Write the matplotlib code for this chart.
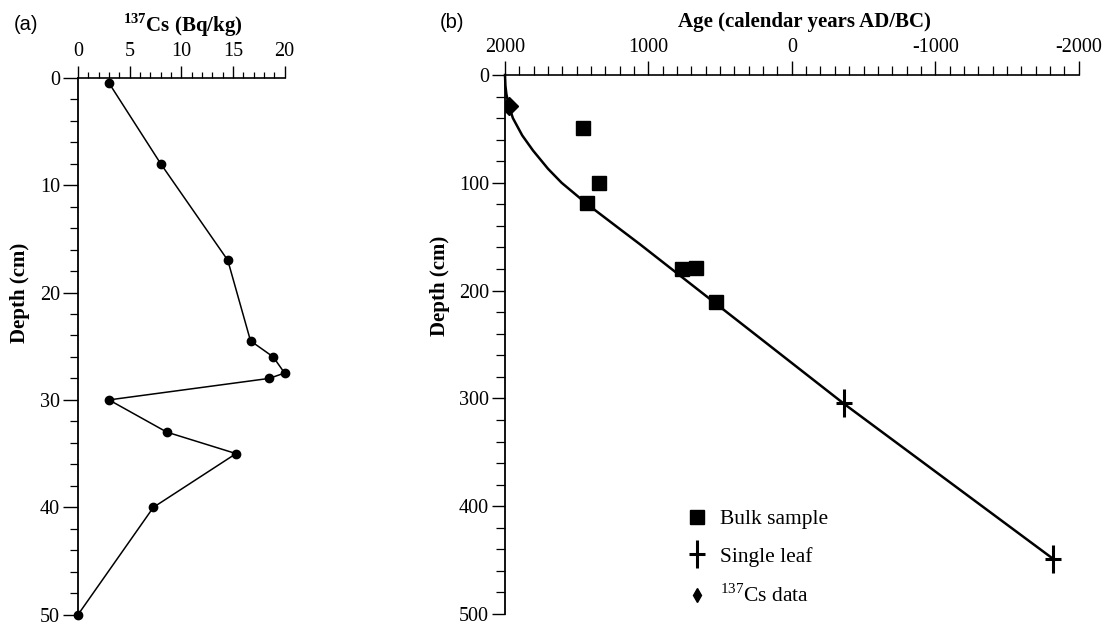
import matplotlib
matplotlib.use("Agg")
import matplotlib.pyplot as plt
from matplotlib.path import Path
from matplotlib.lines import Line2D
from matplotlib.ticker import MultipleLocator

# ---------------- data ----------------
# panel (a): 137Cs activity profile
cs_activity = [3.0, 8.0, 14.5, 16.7, 18.9, 20.0, 18.5, 3.0, 8.6, 15.3, 7.3, 0.0]
cs_depth = [0.5, 8, 17, 24.5, 26, 27.5, 28, 30, 33, 35, 40, 50]

# panel (b): age-depth model
model_depth = [0, 10, 18, 29, 40, 56, 70, 87, 100, 115, 119, 143, 157, 211, 305, 449]
model_age = [2000, 1997, 1990, 1972, 1945, 1880, 1805, 1700, 1605, 1470, 1435, 1198, 1059, 540, -364, -1824]

bulk_age = [1454, 1342, 1430, 768, 670, 529]
bulk_depth = [49, 100, 119, 180, 179, 211]

leaf_age = [-364, -1824]
leaf_depth = [304, 449]

cs137_age = [1972]
cs137_depth = [29]

legend_labels = ["Bulk sample", "Single leaf", r"$^{137}$Cs data"]

# ---------------- style ----------------
plt.rcParams['font.family'] = ['Liberation Serif', 'DejaVu Serif']
plt.rcParams['mathtext.fontset'] = 'custom'
plt.rcParams['mathtext.rm'] = 'Liberation Serif'
plt.rcParams['mathtext.bf'] = 'Liberation Serif:bold'
plt.rcParams['axes.unicode_minus'] = False

W, H = 1107, 625
fig = plt.figure(figsize=(W / 100, H / 100), dpi=100)

axA = fig.add_axes([78 / W, 1 - 614.7 / H, 206.6 / W, 537 / H])
axB = fig.add_axes([505 / W, 1 - 614 / H, 573.6 / W, 539 / H])

for ax in (axA, axB):
    ax.spines['right'].set_visible(False)
    ax.spines['bottom'].set_visible(False)
    ax.spines['top'].set_linewidth(1.2)
    ax.spines['left'].set_linewidth(1.3)
    ax.xaxis.set_ticks_position('top')
    ax.xaxis.set_label_position('top')
    ax.tick_params(labelsize=14.5, width=1.0, color='black')
    ax.tick_params(which='minor', width=0.9)

# cross marker (tall plus)
cross = Path([(-0.54, 0), (0.54, 0), (0, -1), (0, 1)],
             [Path.MOVETO, Path.LINETO, Path.MOVETO, Path.LINETO])

# ---------------- panel (a) ----------------
axA.plot(cs_activity, cs_depth, color='black', lw=1.1, marker='o', ms=6,
         clip_on=False, zorder=3)
axA.set_xlim(0, 20)
axA.set_ylim(50, 0)
axA.xaxis.set_major_locator(MultipleLocator(5))
axA.xaxis.set_minor_locator(MultipleLocator(1))
axA.yaxis.set_major_locator(MultipleLocator(10))
axA.yaxis.set_minor_locator(MultipleLocator(2))
axA.tick_params(axis='x', which='major', length=9, pad=3)
axA.tick_params(axis='x', which='minor', length=4.5)
axA.tick_params(axis='y', which='major', length=10.8, pad=2)
axA.tick_params(axis='y', which='minor', length=5.5)
axA.set_ylabel("Depth (cm)", fontsize=15, fontweight='bold', va='center')
axA.yaxis.set_label_coords(-0.28, 0.60)

# ---------------- panel (b) ----------------
axB.plot(model_age, model_depth, color='black', lw=1.8, zorder=2, clip_on=False)
h_bulk, = axB.plot(bulk_age, bulk_depth, ls='none', marker='s', ms=10,
                   color='black', zorder=3)
h_leaf, = axB.plot(leaf_age, leaf_depth, ls='none', marker=cross, ms=20,
                   mew=2.2, color='black', zorder=3, clip_on=False)
h_cs, = axB.plot(cs137_age, cs137_depth, ls='none', marker='D', ms=9,
                 color='black', zorder=3)
axB.set_xlim(2000, -2000)
axB.set_ylim(500, 0)
axB.xaxis.set_major_locator(MultipleLocator(1000))
axB.xaxis.set_minor_locator(MultipleLocator(100))
axB.yaxis.set_major_locator(MultipleLocator(100))
axB.yaxis.set_minor_locator(MultipleLocator(20))
axB.tick_params(axis='x', which='major', length=10, pad=3)
axB.tick_params(axis='x', which='minor', length=6.5)
axB.tick_params(axis='y', which='major', length=9.5, pad=2)
axB.tick_params(axis='y', which='minor', length=6.5)
axB.set_ylabel("Depth (cm)", fontsize=15, fontweight='bold', va='center')
axB.yaxis.set_label_coords(-0.113, 0.609)

leg_handles = [
    Line2D([], [], ls='none', marker='s', ms=10, color='black'),
    Line2D([], [], ls='none', marker=cross, ms=20, mew=2.2, color='black'),
    Line2D([], [], ls='none', marker='d', ms=7.5, color='black'),
]
axB.legend(leg_handles, legend_labels, loc='upper left',
           bbox_to_anchor=(686 / W, 1 - 509 / H), bbox_transform=fig.transFigure,
           frameon=False, handlelength=1.0, handletextpad=0.6,
           labelspacing=0.82, borderpad=0, borderaxespad=0,
           prop={'family': 'Liberation Serif', 'size': 15.5})

# ---------------- titles / panel letters ----------------
fig.text(26 / W, 1 - 25 / H, "(a)", family='Liberation Sans', fontsize=14.5,
         ha='center', va='center')
fig.text(123 / W, 1 - 25 / H, r"$^{\mathbf{137}}$Cs (Bq/kg)", fontsize=15,
         fontweight='bold', ha='left', va='center')
fig.text(452 / W, 1 - 22 / H, "(b)", family='Liberation Sans', fontsize=14.5,
         ha='center', va='center')
fig.text(678 / W, 1 - 22 / H, "Age (calendar years AD/BC)", fontsize=15,
         fontweight='bold', ha='left', va='center')

fig.savefig("out.png", dpi=100)
